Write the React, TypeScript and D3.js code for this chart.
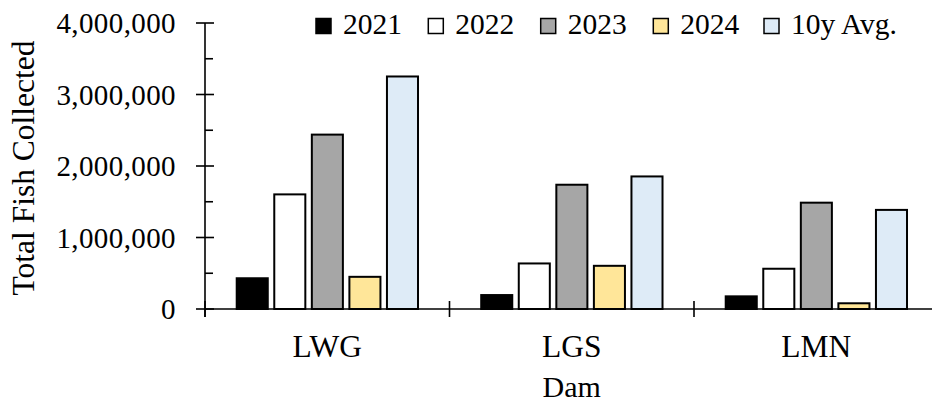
import React from "react";
import * as d3 from "d3";

const categories = ["LWG", "LGS", "LMN"];
const seriesNames = ["2021", "2022", "2023", "2024", "10y Avg."];
const seriesColors = ["#000000", "#ffffff", "#a6a6a6", "#ffe699", "#deebf7"];
const values2021 = [430000, 195000, 177000];
const values2022 = [1603000, 637000, 563000];
const values2023 = [2439000, 1738000, 1487000];
const values2024 = [450000, 604000, 80000];
const valuesAvg = [3252000, 1854000, 1386000];
const seriesValues = [values2021, values2022, values2023, values2024, valuesAvg];
const yTicks = [0, 1000000, 2000000, 3000000, 4000000];
const yMinorTicks = [500000, 1500000, 2500000, 3500000];

const W = 932;
const H = 405;
const left = 205;
const right = 938.5;
const top = 23;
const bottom = 309;
const FONT = "'Liberation Serif', 'Times New Roman', serif";

export default function App() {
  const x0 = d3.scaleBand<string>().domain(categories).range([left, right]).padding(0);
  const bw0 = x0.bandwidth();
  const x1 = d3
    .scaleBand<string>()
    .domain(seriesNames)
    .range([bw0 * 0.1297, bw0 * 0.8712])
    .paddingInner(0.1733)
    .paddingOuter(0);
  const y = d3.scaleLinear().domain([0, 4000000]).range([bottom, top]);
  const fmt = d3.format(",");

  const catTicks = [...categories.map((c) => x0(c) as number), right];

  const legendX = [316, 428.3, 540.7, 653.3, 764];

  return (
    <svg
      width={W}
      height={H}
      style={{ position: "fixed", left: 0, top: 0, background: "#fff" }}
      fontFamily={FONT}
    >
      {/* bars */}
      {categories.map((c, ci) => (
        <g key={c} transform={`translate(${x0(c)},0)`}>
          {seriesNames.map((s, si) => {
            const v = seriesValues[si][ci];
            return (
              <rect
                key={s}
                x={x1(s)}
                y={y(v)}
                width={x1.bandwidth()}
                height={y(0) - y(v)}
                fill={seriesColors[si]}
                stroke="#000"
                strokeWidth={2}
              />
            );
          })}
        </g>
      ))}

      {/* y axis */}
      <line x1={left} x2={left} y1={top} y2={bottom + 8} stroke="#000" strokeWidth={1.6} />
      {yTicks.map((t) => (
        <g key={t}>
          <line x1={left - 9} x2={left + 9} y1={y(t)} y2={y(t)} stroke="#000" strokeWidth={1.6} />
          <text x={176} y={y(t)} dy="0.35em" textAnchor="end" fontSize={29} letterSpacing={0.4}>
            {fmt(t)}
          </text>
        </g>
      ))}
      {yMinorTicks.map((t) => (
        <line key={t} x1={left} x2={left + 8} y1={y(t)} y2={y(t)} stroke="#000" strokeWidth={1.6} />
      ))}

      {/* x axis */}
      <line x1={left} x2={W + 10} y1={bottom} y2={bottom} stroke="#000" strokeWidth={1.6} />
      {catTicks.map((t, i) => (
        <line key={i} x1={t} x2={t} y1={bottom - 8} y2={bottom + 8} stroke="#000" strokeWidth={1.6} />
      ))}
      {categories.map((c) => (
        <text
          key={c}
          x={(x0(c) as number) + bw0 / 2}
          y={357}
          textAnchor="middle"
          fontSize={31.5}
        >
          {c}
        </text>
      ))}

      {/* axis titles */}
      <text x={(left + right) / 2} y={397} textAnchor="middle" fontSize={30}>
        Dam
      </text>
      <text
        transform={`translate(34,${(top + bottom) / 2 + 2}) rotate(-90)`}
        textAnchor="middle"
        fontSize={31.5}
      >
        Total Fish Collected
      </text>

      {/* legend */}
      {seriesNames.map((s, i) => (
        <g key={s}>
          <rect
            x={legendX[i]}
            y={18.5}
            width={15}
            height={15}
            fill={seriesColors[i]}
            stroke="#000"
            strokeWidth={1.5}
          />
          <text x={legendX[i] + 27} y={33.5} fontSize={29.5}>
            {s}
          </text>
        </g>
      ))}
    </svg>
  );
}
